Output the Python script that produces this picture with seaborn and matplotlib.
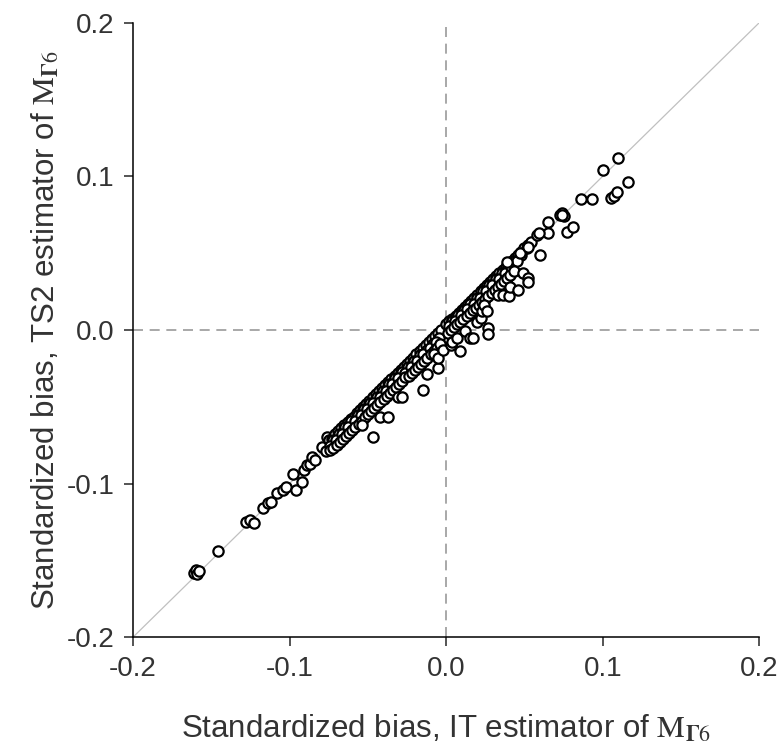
import numpy as np
import pandas as pd
import seaborn as sns
import matplotlib.pyplot as plt

# lower-left tail (IT estimator, TS2 estimator)
tail_x = [-0.161, -0.160, -0.159, -0.158, -0.146, -0.128, -0.125, -0.123, -0.117, -0.114,
          -0.112, -0.108, -0.104, -0.102, -0.098, -0.096, -0.092, -0.091, -0.089, -0.087,
          -0.086, -0.084, -0.079, -0.077, -0.076]
tail_y = [-0.158, -0.156, -0.159, -0.157, -0.144, -0.125, -0.124, -0.126, -0.116, -0.113,
          -0.112, -0.106, -0.104, -0.102, -0.094, -0.104, -0.099, -0.091, -0.088, -0.087,
          -0.083, -0.085, -0.076, -0.079, -0.070]

# dense band below zero, upper row
neg_top_x = [-0.075, -0.073, -0.071, -0.069, -0.067, -0.065, -0.063, -0.061, -0.059, -0.057,
             -0.055, -0.053, -0.051, -0.049, -0.047, -0.045, -0.043, -0.041, -0.039, -0.037,
             -0.035, -0.033, -0.031, -0.029, -0.027, -0.025, -0.023, -0.021, -0.019, -0.017,
             -0.015, -0.013, -0.011, -0.009, -0.007, -0.005, -0.003]
neg_top_y = [-0.072, -0.071, -0.068, -0.066, -0.064, -0.062, -0.060, -0.058, -0.057, -0.054,
             -0.052, -0.050, -0.048, -0.046, -0.044, -0.042, -0.040, -0.038, -0.036, -0.034,
             -0.032, -0.030, -0.028, -0.026, -0.024, -0.022, -0.020, -0.018, -0.016, -0.014,
             -0.012, -0.010, -0.008, -0.006, -0.004, -0.002, 0.000]

# dense band below zero, fill rows
neg_fill_x = [-0.0725, -0.0685, -0.0645, -0.0605, -0.0565, -0.0525, -0.0485, -0.0445, -0.0405,
              -0.0365, -0.0325, -0.0285, -0.0245, -0.0205, -0.0165, -0.0125, -0.0085, -0.0045]
neg_fill_y = [-0.0715, -0.0675, -0.0635, -0.0595, -0.0555, -0.0515, -0.0475, -0.0435, -0.0395,
              -0.0355, -0.0315, -0.0275, -0.0240, -0.0200, -0.0165, -0.0130, -0.0090, -0.0050]

neg_mid_x = [-0.0745, -0.0705, -0.0665, -0.0625, -0.0585, -0.0545, -0.0505, -0.0465, -0.0425,
             -0.0385, -0.0345, -0.0305, -0.0265, -0.0225, -0.0185, -0.0145, -0.0105, -0.0065]
neg_mid_y = [-0.0755, -0.0715, -0.0675, -0.0635, -0.0595, -0.0555, -0.0515, -0.0475, -0.0435,
             -0.0395, -0.0355, -0.0315, -0.0280, -0.0240, -0.0200, -0.0160, -0.0120, -0.0080]

# dense band below zero, lower row
neg_low_x = [-0.074, -0.072, -0.070, -0.068, -0.066, -0.064, -0.062, -0.060, -0.058, -0.056,
             -0.054, -0.052, -0.050, -0.048, -0.046, -0.044, -0.042, -0.040, -0.038, -0.036,
             -0.034, -0.032, -0.030, -0.028, -0.026, -0.024, -0.022, -0.020, -0.018, -0.016,
             -0.014, -0.012, -0.010, -0.008, -0.006, -0.004]
neg_low_y = [-0.078, -0.077, -0.075, -0.073, -0.071, -0.069, -0.067, -0.065, -0.063, -0.061,
             -0.059, -0.057, -0.055, -0.053, -0.051, -0.049, -0.047, -0.045, -0.043, -0.041,
             -0.039, -0.037, -0.035, -0.033, -0.031, -0.030, -0.028, -0.026, -0.024, -0.022,
             -0.020, -0.018, -0.016, -0.014, -0.012, -0.009]

# dense band above zero, upper row
pos_top_x = [0.000, 0.002, 0.004, 0.006, 0.008, 0.010, 0.012, 0.014, 0.016, 0.018,
             0.020, 0.022, 0.024, 0.026, 0.028, 0.030, 0.032, 0.034, 0.036, 0.038,
             0.040, 0.042, 0.044, 0.046, 0.048, 0.050, 0.052, 0.054]
pos_top_y = [0.004, 0.006, 0.007, 0.009, 0.011, 0.013, 0.015, 0.017, 0.019, 0.021,
             0.023, 0.025, 0.027, 0.029, 0.031, 0.033, 0.035, 0.037, 0.039, 0.041,
             0.043, 0.045, 0.047, 0.049, 0.051, 0.053, 0.055, 0.057]

# dense band above zero, fill rows
pos_fill_x = [0.0035, 0.0075, 0.0115, 0.0155, 0.0195, 0.0235, 0.0275, 0.0315, 0.0355,
              0.0395, 0.0435, 0.0475, 0.0515]
pos_fill_y = [0.0055, 0.0095, 0.0130, 0.0170, 0.0210, 0.0250, 0.0290, 0.0330, 0.0370,
              0.0410, 0.0450, 0.0490, 0.0530]

pos_mid_x = [0.0015, 0.0055, 0.0095, 0.0135, 0.0175, 0.0215, 0.0255, 0.0295, 0.0335,
             0.0375, 0.0415, 0.0455]
pos_mid_y = [0.0025, 0.0060, 0.0095, 0.0135, 0.0170, 0.0210, 0.0250, 0.0290, 0.0330,
             0.0370, 0.0410, 0.0450]

# dense band above zero, lower row
pos_low_x = [0.001, 0.003, 0.005, 0.007, 0.009, 0.011, 0.013, 0.015, 0.017, 0.019,
             0.021, 0.023, 0.025, 0.027, 0.029, 0.031, 0.033, 0.035, 0.037, 0.039,
             0.041, 0.043]
pos_low_y = [-0.002, 0.000, 0.002, 0.004, 0.005, 0.007, 0.009, 0.011, 0.013, 0.014,
             0.016, 0.018, 0.020, 0.022, 0.024, 0.026, 0.028, 0.030, 0.032, 0.034,
             0.036, 0.038]

# scattered points off the band and the upper-right tail
off_x = [-0.047, -0.054, -0.042, -0.037, -0.031, -0.028, -0.015, -0.012, -0.005, -0.008,
         -0.005, -0.002, 0.003, 0.004, 0.009, 0.007, 0.012, 0.015, 0.017, 0.020,
         0.022, 0.027, 0.027, 0.023, 0.024, 0.026, 0.033, 0.036, 0.040, 0.041,
         0.046, 0.049, 0.052, 0.052, 0.039, 0.047, 0.052, 0.060, 0.058, 0.065,
         0.065, 0.059, 0.077, 0.081, 0.073, 0.074, 0.075, 0.074, 0.086, 0.093,
         0.100, 0.110, 0.105, 0.107, 0.109, 0.116]
off_y = [-0.070, -0.062, -0.057, -0.057, -0.044, -0.044, -0.039, -0.029, -0.025, -0.016,
         -0.018, -0.013, -0.010, -0.008, -0.014, -0.005, -0.001, -0.005, -0.005, 0.005,
         0.008, 0.001, -0.003, 0.012, 0.016, 0.012, 0.023, 0.023, 0.022, 0.028,
         0.026, 0.037, 0.034, 0.031, 0.044, 0.050, 0.054, 0.049, 0.062, 0.063,
         0.070, 0.063, 0.064, 0.067, 0.075, 0.076, 0.074, 0.075, 0.085, 0.085,
         0.104, 0.112, 0.086, 0.087, 0.090, 0.096]

df = pd.DataFrame({
    "it": (tail_x + neg_top_x + neg_fill_x + neg_mid_x + neg_low_x
           + pos_top_x + pos_fill_x + pos_mid_x + pos_low_x + off_x),
    "ts2": (tail_y + neg_top_y + neg_fill_y + neg_mid_y + neg_low_y
            + pos_top_y + pos_fill_y + pos_mid_y + pos_low_y + off_y),
})

sns.set_style("ticks")
plt.rcParams['font.family'] = ['Liberation Sans', 'DejaVu Sans']
plt.rcParams['mathtext.fontset'] = 'stix'

fig = plt.figure(figsize=(7.78, 7.54), dpi=100)
ax = fig.add_axes([0.171, 0.155, 0.805, 0.815])

# reference diagonal and zero lines
ax.plot([-0.2, 0.2], [-0.2, 0.2], color="#c0c0c0", lw=0.9, zorder=1)
ax.axhline(0, color="#999999", lw=1.2, ls=(0, (6, 4)), zorder=1)
ax.axvline(0, color="#999999", lw=1.2, ls=(0, (6, 4)), zorder=1)

sns.scatterplot(data=df, x="it", y="ts2", ax=ax, marker="o", s=55,
                facecolor="white", edgecolor="black", linewidth=1.6, zorder=3)

ax.set_xlim(-0.2, 0.2)
ax.set_ylim(-0.2, 0.2)
ticks = [-0.2, -0.1, 0.0, 0.1, 0.2]
ax.set_xticks(ticks)
ax.set_yticks(ticks)
ax.set_xticklabels(["-0.2", "-0.1", "0.0", "0.1", "0.2"])
ax.set_yticklabels(["-0.2", "-0.1", "0.0", "0.1", "0.2"])
ax.tick_params(direction="out", length=6.5, width=1.1, labelsize=20,
               labelcolor="#333333", pad=7)
for sp in ["left", "bottom"]:
    ax.spines[sp].set_linewidth(1.1)
    ax.spines[sp].set_color("black")
sns.despine(ax=ax)

lab = r"$\mathrm{M}_{\mathbf{\Gamma}\mathrm{6}}$"
ax.set_xlabel("Standardized bias, IT estimator of " + lab, fontsize=22.5,
              color="#333333", labelpad=23)
ax.set_ylabel("Standardized bias, TS2 estimator of " + lab, fontsize=22.5,
              color="#333333", labelpad=3)

fig.savefig("out.png", dpi=100)
